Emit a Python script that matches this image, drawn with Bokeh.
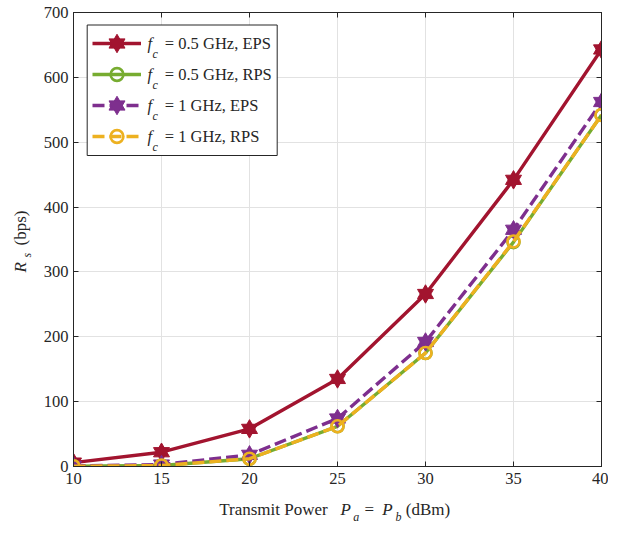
import math
from bokeh.plotting import figure
from bokeh.layouts import row, column
from bokeh.models import (ColumnDataSource, Range1d, LinearAxis, FixedTicker,
                          Legend, LegendItem, Label, BoxAnnotation)
from bokeh.embed import file_html
from bokeh.resources import INLINE

# ---------------- data ----------------
power_dbm = [10, 15, 20, 25, 30, 35, 40]
rs_f05_eps = [6, 22, 58, 135, 266, 442, 643]
rs_f05_rps = [0.4, 1.5, 12, 62, 175, 346, 542]
rs_f1_eps = [0.8, 3, 18, 74, 192, 365, 562]
rs_f1_rps = [0.4, 1.5, 12, 62, 175, 347, 542]
x_ticks = [10, 15, 20, 25, 30, 35, 40]
y_ticks = [0, 100, 200, 300, 400, 500, 600, 700]
legend_rest = ["= 0.5 GHz, EPS", "= 0.5 GHz, RPS", "= 1 GHz, EPS", "= 1 GHz, RPS"]

FONT = "Liberation Serif"
TXT = "#262626"
RED = "#A2142F"
GREEN = "#77AC30"
PURPLE = "#7E2F8E"
YELLOW = "#EDB120"

# layout geometry
YL_W = 33            # strip holding the y-axis title
P_W = 608 - YL_W     # main figure width
TOP, BOT = 12, 26    # main figure top / bottom borders
P_H = 492
XL_H = 524 - P_H     # strip holding the x-axis title
FRAME_H = P_H - TOP - BOT

src = ColumnDataSource(dict(x=power_dbm, a=rs_f05_eps, b=rs_f05_rps,
                            c=rs_f1_eps, d=rs_f1_rps))

p = figure(width=P_W, height=P_H, output_backend="svg", toolbar_location=None,
           title=None, x_range=Range1d(10, 40), y_range=Range1d(0, 700),
           min_border_left=73 - YL_W, min_border_right=7, min_border_top=TOP,
           min_border_bottom=BOT)
p.background_fill_color = "white"
p.border_fill_color = "white"
p.outline_line_color = TXT
p.outline_line_width = 1

p.xaxis.ticker = FixedTicker(ticks=x_ticks)
p.yaxis.ticker = FixedTicker(ticks=y_ticks)
for ax in (p.xaxis[0], p.yaxis[0]):
    ax.major_tick_in = 5
    ax.major_tick_out = 0
    ax.minor_tick_in = 0
    ax.minor_tick_out = 0
    ax.axis_line_color = TXT
    ax.major_tick_line_color = TXT
    ax.major_label_text_font = FONT
    ax.major_label_text_font_size = "16.5px"
    ax.major_label_text_color = TXT
p.xaxis.major_label_standoff = 6
p.yaxis.major_label_standoff = 5

for loc, ticks in (("right", y_ticks), ("above", x_ticks)):
    ax = LinearAxis(ticker=FixedTicker(ticks=ticks),
                    major_label_overrides={t: "" for t in ticks})
    ax.major_tick_in = 5
    ax.major_tick_out = 0
    ax.minor_tick_in = 0
    ax.minor_tick_out = 0
    ax.major_label_standoff = 0
    ax.axis_line_color = TXT
    ax.major_tick_line_color = TXT
    ax.major_label_text_font_size = "1px"
    p.add_layout(ax, loc)

p.xgrid.grid_line_color = "#e2e2e2"
p.ygrid.grid_line_color = "#e2e2e2"

series = [("a", RED, "solid", "star"),
          ("b", GREEN, "solid", "circle"),
          ("c", PURPLE, "12 5", "star"),
          ("d", YELLOW, "12 5", "circle")]
groups = []
for key, col, dash, mk in series:
    rs = [p.line("x", key, source=src, line_color=col, line_width=3.4, line_dash=dash)]
    if mk == "star":
        for m in ("triangle", "inverted_triangle"):
            rs.append(p.scatter("x", key, source=src, marker=m, size=16,
                                fill_color=col, line_color=col, line_width=1))
    else:
        rs.append(p.scatter("x", key, source=src, marker="circle", size=12,
                            fill_alpha=0, line_color=col, line_width=2.6))
    groups.append((rs, mk))

# legend frame (white box with border)
box = BoxAnnotation(left=13.7, right=203.7, top=FRAME_H - 12.5, bottom=FRAME_H - 143,
                    left_units="screen", right_units="screen",
                    top_units="screen", bottom_units="screen",
                    fill_color="white", fill_alpha=1.0,
                    line_color=TXT, line_width=1, line_alpha=1.0)
p.add_layout(box)

# one single-item legend per row (glyph samples)
for i, (rs, mk) in enumerate(groups):
    gh = 40 if mk == "star" else 32
    center = 31 + 31 * i          # from frame top
    lg = Legend(items=[LegendItem(label=" ", renderers=rs)],
                location=(19, FRAME_H - center - gh / 2), padding=0, spacing=0,
                glyph_height=gh, glyph_width=49, label_height=gh,
                label_width=10, label_standoff=0, label_text_font_size="8px",
                border_line_alpha=0, background_fill_alpha=0, margin=0)
    p.add_layout(lg)

def lab(fig, text, x, y, size="17px", italic=False, angle=0.0):
    fig.add_layout(Label(x=x, y=y, x_units="screen", y_units="screen", text=text,
                         text_font=FONT, text_font_size=size,
                         text_font_style="italic" if italic else "normal",
                         text_color=TXT, text_align="left",
                         text_baseline="middle", angle=angle))

for i, rest in enumerate(legend_rest):
    ym = FRAME_H - (30.5 + 31 * i)
    lab(p, "f", 74, ym, "16.5px", True)
    lab(p, "c", 79, ym - 11, "12px", True)
    lab(p, rest, 91.3, ym, "16.5px")

def strip(w, h):
    f = figure(width=w, height=h, output_backend="svg", toolbar_location=None,
               title=None, x_range=Range1d(0, w), y_range=Range1d(0, h),
               x_axis_type=None, y_axis_type=None, min_border=0)
    f.outline_line_color = None
    f.background_fill_color = "white"
    f.border_fill_color = "white"
    f.xgrid.visible = False
    f.ygrid.visible = False
    return f

# x-axis title (strip frame is aligned with the main frame, left edge at x=73)
xl = strip(P_W, XL_H)
base_y = 15
sub_y = 8
lab(xl, "Transmit Power", 145.7, base_y)
lab(xl, "P", 267, base_y, italic=True)
lab(xl, "a", 279.7, sub_y, "12px", True)
lab(xl, "=", 291, base_y)
lab(xl, "P", 308.7, base_y, italic=True)
lab(xl, "b", 322, sub_y, "12px", True)
lab(xl, "(dBm)", 332.3, base_y)

# y-axis title
yl = strip(YL_W, 524)
lab(yl, "R", 20, 252, italic=True, angle=math.pi / 2)
lab(yl, "s", 26.5, 267, "12px", True, angle=math.pi / 2)
lab(yl, "(bps)", 20, 279, angle=math.pi / 2)

layout = row(yl, column(p, xl, spacing=0), spacing=0)
open("out.html", "w").write(file_html(layout, INLINE))
